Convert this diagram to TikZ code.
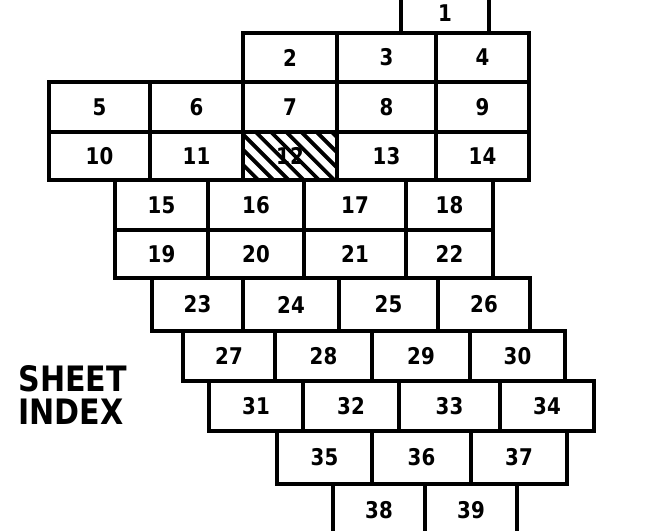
\documentclass[tikz,border=0pt]{standalone}
\usepackage{fontspec}
\newfontfamily\lettering[FakeStretch=0.86]{DejaVu Sans}
\usetikzlibrary{backgrounds}

\begin{document}
\begin{tikzpicture}[
  x=0.5pt,
  y=-0.5pt,
  sheet/.style 2 args={
    draw,
    line width=1.7pt,
    inner sep=0pt,
    minimum width=#1*0.5pt,
    minimum height=#2*0.5pt,
    font=\lettering\bfseries\fontsize{11.5}{11.5}\selectfont
  },
  title/.style={
    align=left,
    inner sep=0pt,
    font=\lettering\bfseries\fontsize{17.5}{16.5}\selectfont
  },
  hatch/.style={line width=1.9pt}
]
\useasboundingbox (0,0) rectangle (658,530);
\clip (0,0) rectangle (658,530);

% top sheet
\node[sheet={88}{40}] (s1) at (445,13) {1};

% rows 2-4 and 5-14
\node[sheet={94}{49}] (s2) at (290,57.5) {2};
\node[sheet={99}{49}] (s3) at (386.5,57.5) {3};
\node[sheet={93}{49}] (s4) at (482.5,57.5) {4};

\node[sheet={101}{50}] (s5) at (99.5,107) {5};
\node[sheet={93}{50}] (s6) at (196.5,107) {6};
\node[sheet={94}{50}] (s7) at (290,107) {7};
\node[sheet={99}{50}] (s8) at (386.5,107) {8};
\node[sheet={93}{50}] (s9) at (482.5,107) {9};

\node[sheet={101}{48}] (s10) at (99.5,156) {10};
\node[sheet={93}{48}] (s11) at (196.5,156) {11};
\node[sheet={94}{48}] (s12) at (290,156) {12};
\node[sheet={99}{48}] (s13) at (386.5,156) {13};
\node[sheet={93}{48}] (s14) at (482.5,156) {14};

% rows 15-22
\node[sheet={93}{50}] (s15) at (161.5,205) {15};
\node[sheet={96}{50}] (s16) at (256,205) {16};
\node[sheet={102}{50}] (s17) at (355,205) {17};
\node[sheet={87}{50}] (s18) at (449.5,205) {18};

\node[sheet={93}{48}] (s19) at (161.5,254) {19};
\node[sheet={96}{48}] (s20) at (256,254) {20};
\node[sheet={102}{48}] (s21) at (355,254) {21};
\node[sheet={87}{48}] (s22) at (449.5,254) {22};

% rows 23-34
\node[sheet={91}{53}] (s23) at (197.5,304.5) {23};
\node[sheet={96}{53}] (s24) at (291,304.5) {24};
\node[sheet={99}{53}] (s25) at (388.5,304.5) {25};
\node[sheet={92}{53}] (s26) at (484,304.5) {26};

\node[sheet={92}{50}] (s27) at (229,356) {27};
\node[sheet={97}{50}] (s28) at (323.5,356) {28};
\node[sheet={98}{50}] (s29) at (421,356) {29};
\node[sheet={95}{50}] (s30) at (517.5,356) {30};

\node[sheet={94}{50}] (s31) at (256,406) {31};
\node[sheet={96}{50}] (s32) at (351,406) {32};
\node[sheet={101}{50}] (s33) at (449.5,406) {33};
\node[sheet={94}{50}] (s34) at (547,406) {34};

% bottom rows
\node[sheet={95}{53}] (s35) at (324.5,457.5) {35};
\node[sheet={99}{53}] (s36) at (421.5,457.5) {36};
\node[sheet={96}{53}] (s37) at (519,457.5) {37};

\node[sheet={92}{52}] (s38) at (379,510) {38};
\node[sheet={92}{52}] (s39) at (471,510) {39};

% shaded sheet
\begin{scope}[on background layer]
  \clip (s12.north west) rectangle (s12.south east);
  \foreach \k in {0,...,9}
    \draw[hatch] ([xshift=\k*7.6pt-24pt]s12.north west) -- ++(60,60);
\end{scope}

\node[title, anchor=west] (index) at (18,395) {SHEET\\INDEX};

\end{tikzpicture}
\end{document}
